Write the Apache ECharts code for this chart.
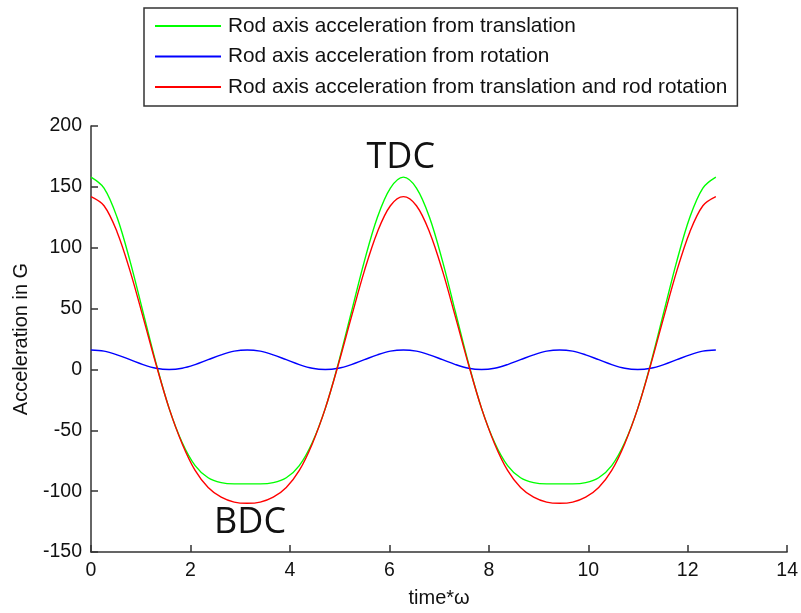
<!DOCTYPE html>
<html>
<head>
<meta charset="utf-8">
<script src="https://cdn.jsdelivr.net/npm/echarts@6/dist/echarts.min.js"></script>
<style>html,body{margin:0;padding:0;background:#fff;}#chart{width:801px;height:613px;}</style>
</head>
<body>
<div id="chart"></div>
<script>
// time*omega sample points (0 .. 4*pi)
var timeOmega = [0, 0.262, 0.524, 0.785, 1.047, 1.309, 1.571, 1.833, 2.094, 2.356, 2.618, 2.880, 3.142,
  3.403, 3.665, 3.927, 4.189, 4.451, 4.712, 4.974, 5.236, 5.498, 5.760, 6.021, 6.283,
  6.545, 6.807, 7.069, 7.330, 7.592, 7.854, 8.116, 8.378, 8.639, 8.901, 9.163, 9.425,
  9.687, 9.948, 10.210, 10.472, 10.734, 10.996, 11.257, 11.519, 11.781, 12.043, 12.305, 12.566];

var accTranslation = [158, 149, 125, 89, 47, 5, -32, -60, -79, -89, -93, -94, -94,
  -94, -93, -89, -79, -60, -32, 5, 47, 89, 125, 149, 158,
  149, 125, 89, 47, 5, -32, -60, -79, -89, -93, -94, -94,
  -94, -93, -89, -79, -60, -32, 5, 47, 89, 125, 149, 158];

var accRotation = [16, 15, 12, 8, 4, 1, 0, 1, 4, 8, 12, 15, 16,
  15, 12, 8, 4, 1, 0, 1, 4, 8, 12, 15, 16,
  15, 12, 8, 4, 1, 0, 1, 4, 8, 12, 15, 16,
  15, 12, 8, 4, 1, 0, 1, 4, 8, 12, 15, 16];

var accCombined = [142, 134.5, 113, 81, 43, 4, -32, -61, -83, -97, -105, -109, -110,
  -109, -105, -97, -83, -61, -32, 4, 43, 81, 113, 134.5, 142,
  134.5, 113, 81, 43, 4, -32, -61, -83, -97, -105, -109, -110,
  -109, -105, -97, -83, -61, -32, 4, 43, 81, 113, 134.5, 142];

var seriesNames = ['Rod axis acceleration from translation',
  'Rod axis acceleration from rotation',
  'Rod axis acceleration from translation and rod rotation'];

var annotations = [
  {text: 'TDC', coord: [6.23, 174]},
  {text: 'BDC', coord: [3.2, -126]}
];

function pairs(ys) { return ys.map(function (y, i) { return [timeOmega[i], y]; }); }

var chart = echarts.init(document.getElementById('chart'), null, {renderer: 'canvas'});
var axisColor = '#333';
var font = 'Liberation Sans, Arial, sans-serif';

chart.setOption({
  animation: false,
  backgroundColor: '#fff',
  textStyle: {fontFamily: font},
  grid: {left: 91, right: 11, top: 126, bottom: 60, containLabel: false},
  legend: {
    orient: 'vertical', left: 144, top: 8,
    padding: [7, 10, 8, 11],
    itemGap: 8.5,
    itemWidth: 66, itemHeight: 2,
    icon: 'rect',
    borderColor: axisColor, borderWidth: 1.5,
    textStyle: {fontSize: 20.8, color: '#111', fontFamily: font, lineHeight: 22, padding: [0, 0, 0, 2]},
    data: seriesNames
  },
  xAxis: {
    type: 'value', min: 0, max: 14, interval: 2,
    name: 'time*\u03c9', nameLocation: 'middle', nameGap: 36,
    nameTextStyle: {fontSize: 20, color: '#111', fontFamily: font},
    axisLine: {onZero: false, lineStyle: {color: axisColor, width: 1.5}},
    axisTick: {inside: true, length: 7, lineStyle: {color: axisColor, width: 1.5}},
    axisLabel: {fontSize: 19.5, color: '#111', margin: 9, fontFamily: font},
    splitLine: {show: false}
  },
  yAxis: {
    type: 'value', min: -150, max: 200, interval: 50,
    name: 'Acceleration in G', nameLocation: 'middle', nameGap: 60,
    nameTextStyle: {fontSize: 20, color: '#111', fontFamily: font},
    axisLine: {show: true, onZero: false, lineStyle: {color: axisColor, width: 1.5}},
    axisTick: {show: true, inside: true, length: 7, lineStyle: {color: axisColor, width: 1.5}},
    axisLabel: {fontSize: 19.5, color: '#111', margin: 9, fontFamily: font},
    splitLine: {show: false}
  },
  series: [
    {
      name: seriesNames[0], type: 'line', data: pairs(accTranslation),
      symbol: 'none', smooth: 0.35, color: '#00ff00',
      lineStyle: {width: 1.4, color: '#00ff00'},
      z: 3,
      markPoint: {
        symbol: 'circle', symbolSize: 0,
        label: {show: true, position: 'inside', fontSize: 36, color: '#111', fontFamily: 'Open Sans, Noto Sans, sans-serif',
          formatter: function (p) { return p.name; }},
        data: annotations.map(function (a) { return {name: a.text, coord: a.coord}; })
      }
    },
    {
      name: seriesNames[1], type: 'line', data: pairs(accRotation),
      symbol: 'none', smooth: 0.35, color: '#0000ff',
      lineStyle: {width: 1.4, color: '#0000ff'}, z: 4
    },
    {
      name: seriesNames[2], type: 'line', data: pairs(accCombined),
      symbol: 'none', smooth: 0.35, color: '#ff0000',
      lineStyle: {width: 1.4, color: '#ff0000'}, z: 5
    }
  ]
});
</script>
</body>
</html>
